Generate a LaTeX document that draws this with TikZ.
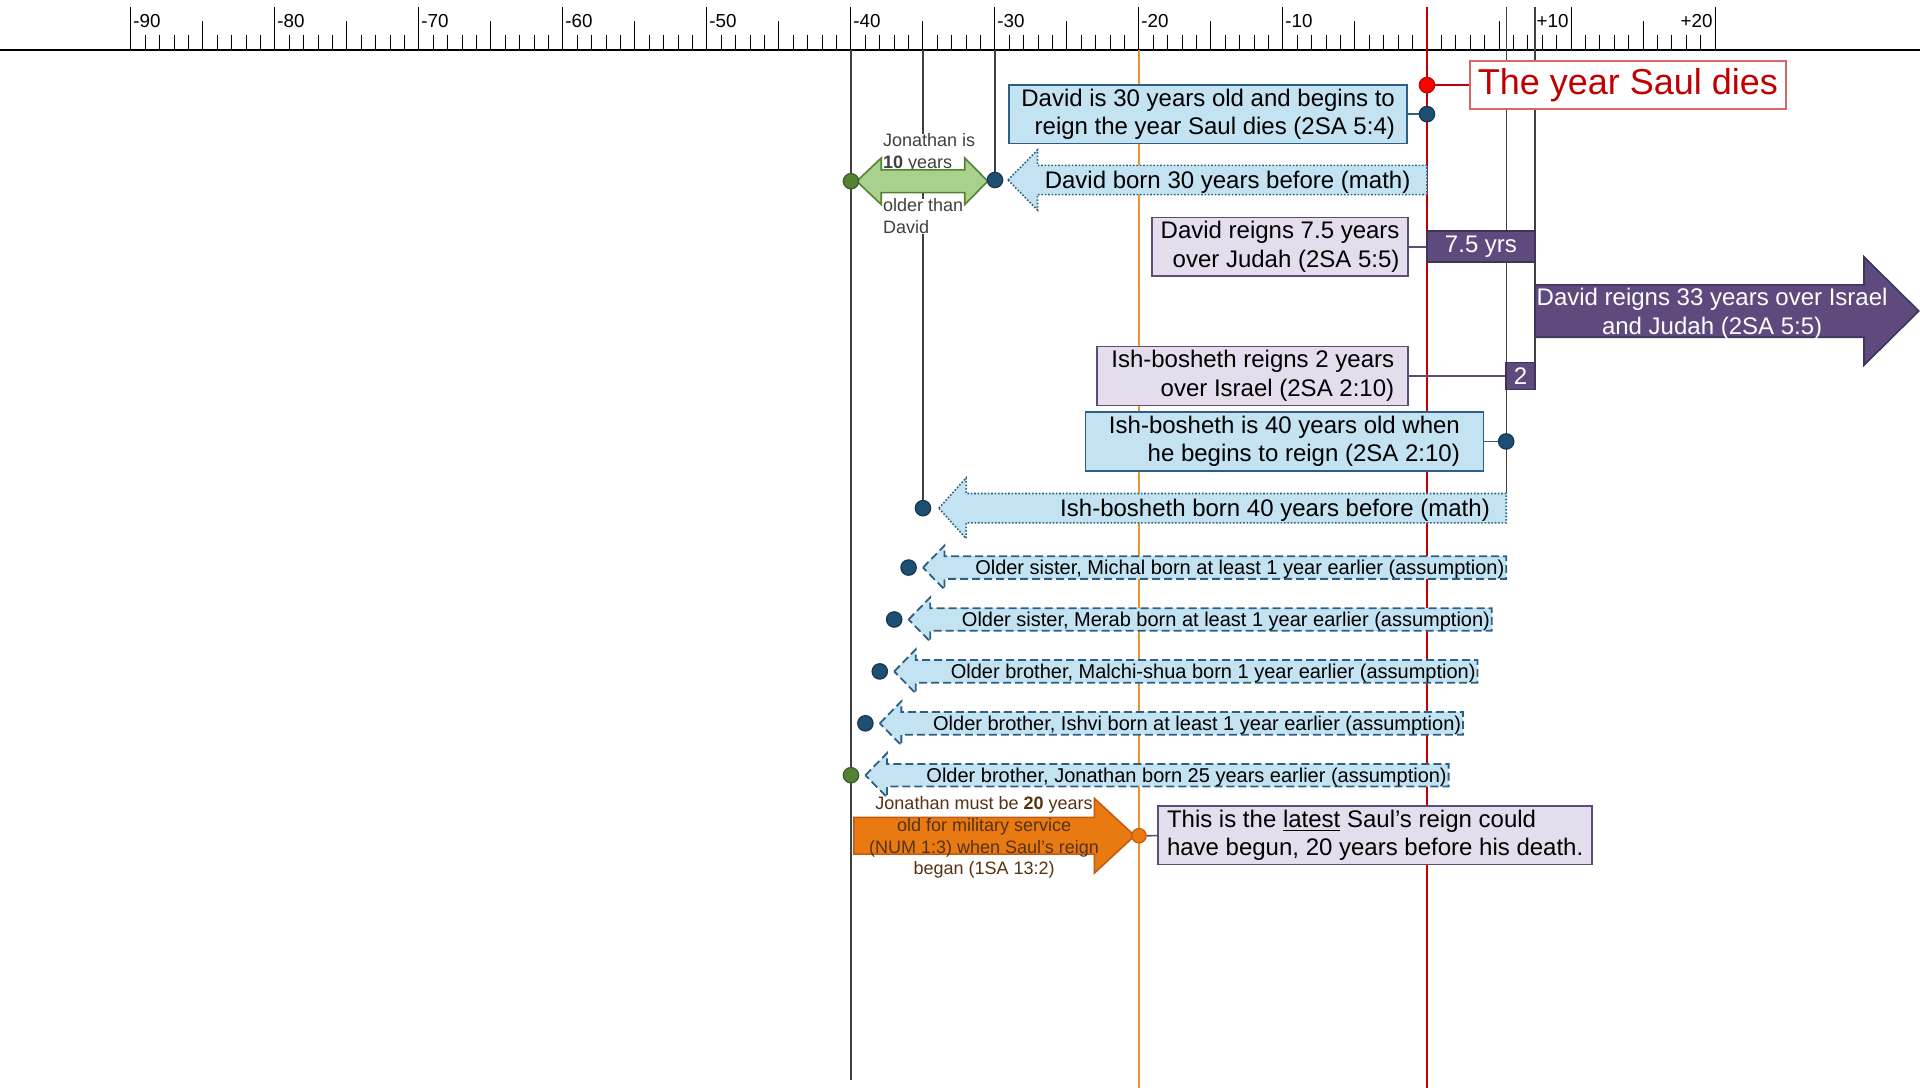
\documentclass[tikz,border=0pt]{standalone}
\usepackage{fontspec}
\setmainfont{Liberation Sans}
\usetikzlibrary{calc}
\definecolor{boxblue}{HTML}{C3E2F2}
\definecolor{edgeblue}{HTML}{2C5F82}
\definecolor{dotblue}{HTML}{1F4E73}
\definecolor{boxlilac}{HTML}{E4DEEC}
\definecolor{edgelilac}{HTML}{604A7B}
\definecolor{reignpurple}{HTML}{5E4A7D}
\definecolor{leafgreen}{HTML}{A9D18E}
\definecolor{darkgreen}{HTML}{548235}
\definecolor{armyorange}{HTML}{E97A12}
\definecolor{burnt}{HTML}{C55A11}
\definecolor{lineorange}{HTML}{E8952E}
\definecolor{deathred}{HTML}{C00000}
\definecolor{textbrown}{HTML}{553311}
\def\pointleft[#1](#2,#3)(#4,#5)(#6,#7){\draw[#1] (#2,#3) -- (#4,#3-#7) -- (#4,#3-#6) -- (#5,#3-#6) -- (#5,#3+#6) -- (#4,#3+#6) -- (#4,#3+#7) -- cycle;}
\def\pointright[#1](#2,#3)(#4,#5)(#6,#7){\draw[#1] (#2,#3-#6) -- (#4,#3-#6) -- (#4,#3-#7) -- (#5,#3) -- (#4,#3+#7) -- (#4,#3+#6) -- (#2,#3+#6) -- cycle;}
\tikzset{
  tickmark/.style={line width=0.5pt, black},
  ticklabel/.style={inner sep=1pt, font=\fontsize{9.4}{11}\selectfont},
  guideline/.style={line width=0.6pt, black!75},
  bluebox/.style={draw=edgeblue, fill=boxblue, line width=0.8pt, inner sep=2pt, font=\fontsize{12}{14.2}\selectfont},
  lilacbox/.style={draw=edgelilac, fill=boxlilac, line width=0.8pt, inner sep=2pt, font=\fontsize{12}{14.2}\selectfont},
  reignbox/.style={draw=reignpurple!70!black, fill=reignpurple, line width=0.8pt, inner sep=0pt, text=white, font=\fontsize{12}{14.2}\selectfont},
  yeardot/.style={circle, inner sep=0pt, minimum size=7.7pt, line width=0.6pt},
  dotarrow/.style={draw=edgeblue, fill=boxblue, line width=0.8pt, dash pattern=on 0.8pt off 0.9pt},
  sibarrow/.style={draw=edgeblue, fill=boxblue, line width=0.9pt, dash pattern=on 4pt off 2pt},
  boxtext/.style={inner sep=0pt, yshift=-1pt, font=\fontsize{12}{14.2}\selectfont},
  sibtext/.style={inner sep=0pt, yshift=-0.8pt, font=\fontsize{10}{12}\selectfont},
  notetext/.style={inner sep=0pt, font=\fontsize{9}{10.8}\selectfont}
}
\begin{document}
\begin{tikzpicture}[x=7.2pt, y=-0.61225pt]
		\useasboundingbox (-99.097,0) rectangle (34.236,888.5);
		%%%%% RULER %%%%%
		
		\draw[line width=0.8pt] (-99.097,40.8) -- (34.236,40.8);
		\foreach \yr in {-90,...,20} \draw[tickmark] (\yr,40.8) -- (\yr,28.6);
		\foreach \yr in {-85,-75,...,15} \draw[tickmark] (\yr,40.8) -- (\yr,17.2);
		\foreach \yr in {-90,-80,...,20} \draw[tickmark] (\yr,40.8) -- (\yr,5.7);
		\foreach \yr in {-90,-80,...,-10} \node[ticklabel, anchor=west] (tick\yr) at (\yr,16.8) {\yr};
		\foreach \yr in {10,20} \node[ticklabel, anchor=east] (tick\yr) at (\yr,16.8) {+\yr};
		
		\coordinate (axisrow) at (0,40.8);
		\coordinate (saulpt) at (0,69.5);
		\coordinate (reignpt) at (0,93.2);
		\coordinate (davidbornpt) at (-30,147);
		\coordinate (jonathanpt) at (-40,148);
		\coordinate (ishagept) at (5.5,360.5);
		\coordinate (ishbornpt) at (-35,415);
		\coordinate (lateststart) at (-20,682.5);
		
		%%%%% GUIDE LINES %%%%%
		
		\draw[guideline] (jonathanpt |- axisrow) -- (-40,882);
		\draw[guideline] (ishbornpt |- axisrow) -- (ishbornpt);
		\draw[guideline] (davidbornpt |- axisrow) -- (davidbornpt);
		\draw[guideline] (5.5,5.7) -- (5.5,403);
		\draw[guideline] (7.5,5.7) -- (7.5,318);
		\draw[line width=0.8pt, lineorange] (lateststart |- axisrow) -- (-20,888.5);
		\draw[line width=1pt, deathred] (0,5.7) -- (0,888.5);
		
		%%%%% DAVID %%%%%
		
		\node[draw=deathred!60, fill=white, text=deathred, line width=0.8pt, font=\fontsize{18}{21}\selectfont, minimum width=158pt, minimum height=23.9pt, inner sep=2pt] (sauldies) at (13.95,69.5) {The year Saul dies};
		\node[bluebox, align=right, minimum width=199pt, minimum height=29.2pt] (reignage) at (-15.2,93.2) {David is 30 years old and begins to\\reign the year Saul dies (2SA 5:4)};
		
		\pointleft[dotarrow](-29.1,147)(-27.05,0)(11.9,24.5)
		\node[boxtext, anchor=east] (davidborn) at (-1.13,147) {David born 30 years before (math)};
		
		\node[notetext, fill=white, text=black!75, anchor=north west, align=left] (olderup) at (-37.8,108.9) {Jonathan is\\\textbf{10} years};
		\node[notetext, fill=white, text=black!75, anchor=north west, align=left] (olderdown) at (-37.8,162) {older than\\David};
		\draw[draw=darkgreen, fill=leafgreen, line width=0.8pt] (-39.6,148) -- (-37.9,129) -- (-37.9,138.7) -- (-32.1,138.7) -- (-32.1,129) -- (-30.5,148) -- (-32.1,167) -- (-32.1,157.3) -- (-37.9,157.3) -- (-37.9,167) -- cycle;
		
		\node[lilacbox, align=right, minimum width=128pt, minimum height=28.8pt] (judah) at (-10.2,201.5) {David reigns 7.5 years\\over Judah (2SA 5:5)};
		\node[reignbox, minimum width=54pt, minimum height=15.5pt] (judahyrs) at (3.75,201.5) {7.5 yrs};
		\draw[line width=0.8pt, edgelilac] (judah) -- (judahyrs);
		
		\pointright[draw=reignpurple!70!black, fill=reignpurple, line width=0.8pt](7.5,254)(30.35,34.15)(21.4,44.2)
		\node[boxtext, text=white, align=center] (israel) at (19.8,254.5) {David reigns 33 years over Israel\\and Judah (2SA 5:5)};
		
		%%%%% ISH-BOSHETH %%%%%
		
		\node[lilacbox, align=right, minimum width=155.5pt, minimum height=28.2pt] (ishreign) at (-12.1,307) {Ish-bosheth reigns 2 years\\over Israel (2SA 2:10)};
		\node[reignbox, minimum width=14.4pt, minimum height=13.5pt] (ishyrs) at (6.5,307) {2};
		\draw[line width=0.8pt, edgelilac] (ishreign) -- (ishyrs);
		
		\node[bluebox, align=right, minimum width=199pt, minimum height=28.8pt] (ishage) at (-9.9,360.5) {Ish-bosheth is 40 years old when\\he begins to reign (2SA 2:10)};
		
		\pointleft[dotarrow](-33.9,415)(-32.0,5.5)(12,24.8)
		\node[boxtext, anchor=east] (ishborn) at (4.39,415) {Ish-bosheth born 40 years before (math)};
		
		%%%%% SIBLINGS %%%%%
		
		\foreach \i/\dotcol/\txt in {0/dotblue/{Older sister, Michal born at least 1 year earlier (assumption)},
			1/dotblue/{Older sister, Merab born at least 1 year earlier (assumption)},
			2/dotblue/{Older brother, Malchi-shua born 1 year earlier (assumption)},
			3/dotblue/{Older brother, Ishvi born at least 1 year earlier (assumption)},
			4/darkgreen/{Older brother, Jonathan born 25 years earlier (assumption)}}{
			\pgfmathsetmacro{\born}{-36-\i}
			\pgfmathsetmacro{\row}{463.5+42.4*\i}
			\pointleft[sibarrow](\born+1,\row)(\born+2.5,\born+41.5)(9.25,18)
			\node[sibtext, anchor=east] (sibtext\i) at (\born+41.4,\row) {\txt};
			\node[yeardot, fill=\dotcol, draw=\dotcol!70!black] (sib\i) at (\born,\row) {};
		}
		
		%%%%% SAUL'S REIGN %%%%%
		
		\pointright[draw=burnt, fill=armyorange, line width=0.8pt](-39.8,682.5)(-23.1,-20.3)(15,30.5)
		\node[notetext, text=textbrown, align=center] (military) at (-30.76,684) {Jonathan must be \textbf{20} years\\old for military service\\(NUM 1:3) when Saul’s reign\\began (1SA 13:2)};
		\node[lilacbox, align=left, minimum width=217pt, minimum height=29.4pt] (latest) at (-3.6,682) {This is the \underline{latest} Saul’s reign could\\have begun, 20 years before his death.};
		
		%%%%% DOTS %%%%%
		
		\node[yeardot, fill=red, draw=deathred] (sauldot) at (saulpt) {};
		\draw[line width=0.8pt, deathred] (sauldot) -- (sauldies);
		\node[yeardot, fill=dotblue, draw=dotblue!70!black] (reigndot) at (reignpt) {};
		\draw[line width=0.8pt, edgeblue] (reignage) -- (reigndot);
		\node[yeardot, fill=dotblue, draw=dotblue!70!black] (davidbdot) at (davidbornpt) {};
		\node[yeardot, fill=darkgreen, draw=darkgreen!70!black] (jondot) at (jonathanpt) {};
		\node[yeardot, fill=dotblue, draw=dotblue!70!black] (ishagedot) at (ishagept) {};
		\draw[line width=0.8pt, edgeblue] (ishage) -- (ishagedot);
		\node[yeardot, fill=dotblue, draw=dotblue!70!black] (ishbdot) at (ishbornpt) {};
		\node[yeardot, minimum size=7.2pt, fill=armyorange, draw=burnt] (latestdot) at (lateststart) {};
		\draw[line width=0.8pt, edgelilac] (latestdot) -- (latest);
		
	\end{tikzpicture}
\end{document}
